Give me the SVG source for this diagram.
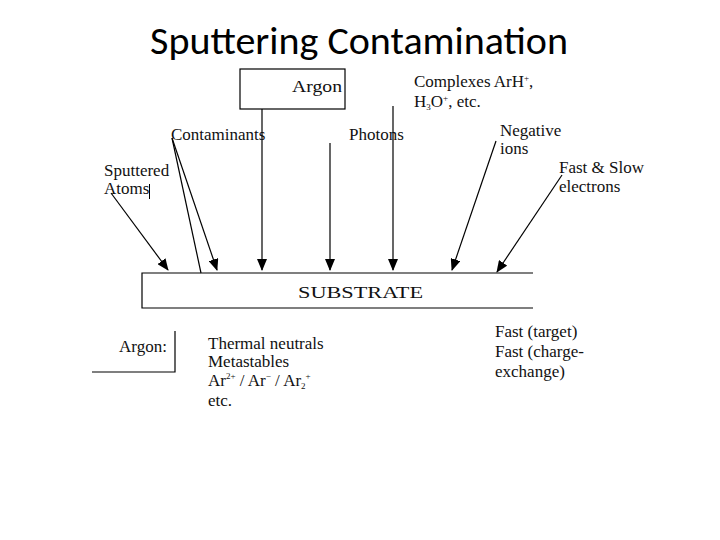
<svg xmlns="http://www.w3.org/2000/svg" width="720" height="540" viewBox="0 0 720 540">
<style>
.t{font-family:"Liberation Serif","Times New Roman",serif;font-size:17px;fill:#111}
.ln{stroke:#000;stroke-width:1.2;fill:none}
.sm{font-size:9px}
</style>
<defs>
<marker id="ah" markerUnits="userSpaceOnUse" markerWidth="12" markerHeight="10" refX="11" refY="5" orient="auto">
<path d="M0,0 L12,5 L0,10 z" fill="#000"/>
</marker>
</defs>
<rect width="720" height="540" fill="#fff"/>
<text x="359" y="54" text-anchor="middle" font-family="Carlito,'Liberation Sans',sans-serif" font-size="39" textLength="418" lengthAdjust="spacingAndGlyphs" fill="#000">Sputtering Contamination</text>

<g id="argon-box">
<rect x="240" y="69" width="105" height="40" class="ln"/>
<text x="292" y="92" class="t" font-size="19" textLength="50" lengthAdjust="spacingAndGlyphs">Argon</text>
</g>
<g id="complexes">
<text x="414" y="87" class="t">Complexes ArH<tspan class="sm" dy="-6">+</tspan><tspan dy="6">,</tspan></text>
<text x="414" y="107" class="t">H<tspan class="sm" dy="3">3</tspan><tspan dy="-3">O</tspan><tspan class="sm" dy="-6">+</tspan><tspan dy="6">, etc.</tspan></text>
</g>
<g id="contaminants"><text x="171" y="140" class="t">Contaminants</text></g>
<g id="photons"><text x="349" y="140" class="t">Photons</text></g>
<g id="negative-ions">
<text x="500" y="136" class="t">Negative</text>
<text x="500" y="154" class="t">ions</text>
</g>
<g id="electrons">
<text x="559" y="173" class="t">Fast &amp; Slow</text>
<text x="559" y="192" class="t">electrons</text>
</g>
<g id="sputtered-atoms">
<text x="104" y="176" class="t">Sputtered</text>
<text x="104" y="194" class="t">Atoms</text>
<line x1="149.5" y1="184" x2="149.5" y2="199" stroke="#000" stroke-width="1"/>
</g>
<g id="substrate">
<path d="M533,273 H142 V308 H533" class="ln"/>
<text x="298" y="298" class="t" font-size="21" textLength="125" lengthAdjust="spacingAndGlyphs">SUBSTRATE</text>
</g>
<g id="argon-legend">
<text x="119" y="352" class="t" font-size="18">Argon:</text>
<path d="M175,331 V372 H92" class="ln" stroke-width="1"/>
</g>
<g id="argon-species">
<text x="208" y="349" class="t" font-size="16">Thermal neutrals</text>
<text x="208" y="367" class="t" font-size="16">Metastables</text>
<text x="208" y="386" class="t" font-size="16">Ar<tspan class="sm" dy="-7">2+</tspan><tspan dy="7"> / Ar</tspan><tspan class="sm" dy="-7">−</tspan><tspan dy="7"> / Ar</tspan><tspan class="sm" dy="3">2</tspan><tspan class="sm" dy="-10">+</tspan></text>
<text x="208" y="406" class="t" font-size="16">etc.</text>
</g>
<g id="fast-species">
<text x="495" y="337" class="t">Fast (target)</text>
<text x="495" y="357" class="t">Fast (charge-</text>
<text x="495" y="377" class="t">exchange)</text>
</g>

<g id="connectors" class="ln" stroke-width="1">
<line x1="111" y1="193" x2="168" y2="270" marker-end="url(#ah)"/>
<line x1="172" y1="138" x2="201" y2="273"/>
<line x1="172" y1="138" x2="217" y2="270" marker-end="url(#ah)"/>
<line x1="262" y1="109" x2="262" y2="270" marker-end="url(#ah)"/>
<line x1="330" y1="143" x2="330" y2="270" marker-end="url(#ah)"/>
<line x1="393" y1="106" x2="393" y2="270" marker-end="url(#ah)"/>
<line x1="496" y1="141" x2="452" y2="270" marker-end="url(#ah)"/>
<line x1="562" y1="175" x2="497" y2="272" marker-end="url(#ah)"/>
</g>
</svg>
